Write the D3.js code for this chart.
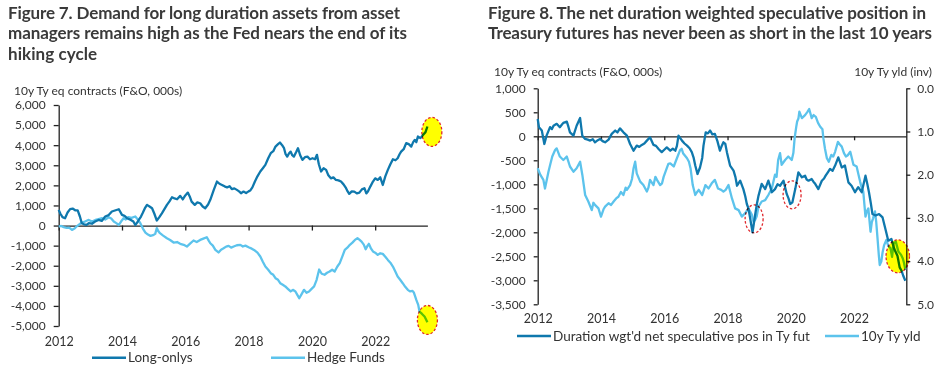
<!DOCTYPE html>
<html>
<head>
<meta charset="utf-8">
<script src="https://cdn.jsdelivr.net/npm/d3@7"></script>
<style>
  body { margin: 0; background: #fff; }
  svg text { font-family: 'Lato', sans-serif; fill: #333; }
  .title { font-weight: bold; font-size: 17px; fill: #3a3a3a; }
  .axis-title { font-size: 12px; }
  .tick text { font-size: 12px; fill: #333; }
  .axis path, .axis line { stroke: #222; stroke-width: 1.3px; }
  .legend text { font-size: 13.5px; }
</style>
</head>
<body>
<svg id="chart" width="945" height="371"></svg>
<script>
// ---- data: [decimal year, value] ----
var longOnlys = [[2012.00,780],[2012.05,600],[2012.12,420],[2012.2,365],[2012.28,650],[2012.36,820],[2012.44,845],[2012.52,760],[2012.6,760],[2012.67,450],[2012.73,115],[2012.8,60],[2012.88,30],[2012.95,115],[2013.05,90],[2013.15,200],[2013.26,280],[2013.36,230],[2013.47,450],[2013.58,520],[2013.68,700],[2013.8,760],[2013.9,810],[2014.0,530],[2014.08,480],[2014.16,365],[2014.28,280],[2014.36,200],[2014.42,30],[2014.48,150],[2014.53,280],[2014.6,450],[2014.65,610],[2014.72,850],[2014.79,1030],[2014.87,950],[2014.95,860],[2015.02,600],[2015.1,250],[2015.18,420],[2015.26,610],[2015.34,820],[2015.42,1030],[2015.5,1200],[2015.58,1410],[2015.66,1350],[2015.74,1310],[2015.84,1475],[2015.92,1300],[2016.0,1500],[2016.08,1640],[2016.14,1450],[2016.2,1190],[2016.3,1030],[2016.38,1150],[2016.47,1110],[2016.55,950],[2016.63,860],[2016.72,1050],[2016.79,1280],[2016.9,1775],[2017.0,2190],[2017.08,2080],[2017.16,2020],[2017.24,1950],[2017.32,1900],[2017.4,1960],[2017.47,1810],[2017.55,1850],[2017.63,1775],[2017.7,1700],[2017.76,1610],[2017.84,1690],[2017.92,1620],[2018.0,1700],[2018.05,1740],[2018.12,1900],[2018.2,2190],[2018.28,2450],[2018.37,2690],[2018.45,2850],[2018.53,3020],[2018.62,3350],[2018.7,3600],[2018.78,3700],[2018.85,3930],[2018.93,4050],[2018.99,4130],[2019.06,4000],[2019.12,3850],[2019.17,3550],[2019.22,3430],[2019.28,3600],[2019.33,3680],[2019.38,3500],[2019.43,3430],[2019.5,3650],[2019.56,3850],[2019.63,3500],[2019.7,3270],[2019.78,3400],[2019.86,3430],[2019.94,3300],[2020.02,3350],[2020.1,3300],[2020.16,3520],[2020.22,3050],[2020.29,2690],[2020.37,2850],[2020.45,2770],[2020.52,2500],[2020.6,2350],[2020.68,2400],[2020.76,2270],[2020.84,2250],[2020.92,2190],[2021.0,2050],[2021.08,1860],[2021.13,1700],[2021.18,1575],[2021.26,1700],[2021.34,1690],[2021.42,1600],[2021.5,1640],[2021.58,1800],[2021.66,1860],[2021.72,1600],[2021.77,1690],[2021.85,1950],[2021.93,2190],[2022.0,2350],[2022.08,2270],[2022.16,2400],[2022.24,2020],[2022.32,2450],[2022.4,2770],[2022.48,3050],[2022.56,3300],[2022.64,3250],[2022.71,3350],[2022.77,3550],[2022.82,3680],[2022.9,3800],[2022.98,4100],[2023.06,4050],[2023.14,3930],[2023.2,4150],[2023.25,4260],[2023.3,4150],[2023.35,4430],[2023.43,4350],[2023.51,4510],[2023.59,4650],[2023.65,4930]];

var hedgeFunds = [[2012.0,-50],[2012.08,-20],[2012.16,-80],[2012.25,-120],[2012.33,-100],[2012.42,-215],[2012.5,-150],[2012.54,-80],[2012.62,20],[2012.7,115],[2012.8,180],[2012.9,250],[2012.95,280],[2013.05,200],[2013.16,280],[2013.26,320],[2013.37,365],[2013.47,300],[2013.58,415],[2013.66,350],[2013.74,200],[2013.82,120],[2013.9,30],[2013.97,200],[2014.05,365],[2014.12,300],[2014.2,415],[2014.3,380],[2014.42,450],[2014.5,300],[2014.58,115],[2014.66,-150],[2014.74,-350],[2014.82,-450],[2014.9,-515],[2014.98,-480],[2015.05,-415],[2015.1,-130],[2015.15,-280],[2015.2,-380],[2015.3,-500],[2015.42,-630],[2015.52,-720],[2015.63,-845],[2015.74,-820],[2015.84,-910],[2015.95,-960],[2016.05,-1045],[2016.15,-900],[2016.26,-745],[2016.36,-820],[2016.47,-715],[2016.57,-650],[2016.68,-580],[2016.74,-750],[2016.79,-880],[2016.87,-1000],[2016.95,-1210],[2017.05,-1340],[2017.13,-1200],[2017.21,-1130],[2017.29,-1050],[2017.37,-1010],[2017.45,-1100],[2017.53,-1045],[2017.63,-980],[2017.74,-960],[2017.82,-1045],[2017.9,-1000],[2018.0,-1080],[2018.1,-1150],[2018.2,-1245],[2018.28,-1350],[2018.37,-1540],[2018.45,-1800],[2018.53,-2040],[2018.62,-2200],[2018.7,-2370],[2018.78,-2450],[2018.85,-2620],[2018.93,-2700],[2019.0,-2870],[2019.08,-2950],[2019.16,-3030],[2019.24,-3150],[2019.33,-3280],[2019.4,-3200],[2019.48,-3280],[2019.54,-3450],[2019.6,-3620],[2019.68,-3400],[2019.75,-3200],[2019.83,-3350],[2019.91,-3280],[2019.99,-3150],[2020.07,-3030],[2020.15,-2700],[2020.23,-2190],[2020.31,-2400],[2020.4,-2450],[2020.48,-2350],[2020.56,-2290],[2020.64,-2200],[2020.72,-2290],[2020.8,-2050],[2020.88,-1870],[2020.96,-1550],[2021.04,-1210],[2021.12,-1100],[2021.2,-960],[2021.28,-850],[2021.36,-715],[2021.44,-630],[2021.5,-700],[2021.57,-800],[2021.64,-950],[2021.7,-1180],[2021.76,-1000],[2021.8,-910],[2021.87,-1150],[2021.93,-1290],[2022.0,-1350],[2022.08,-1460],[2022.16,-1380],[2022.24,-1410],[2022.32,-1550],[2022.4,-1710],[2022.48,-1850],[2022.56,-2040],[2022.64,-2300],[2022.71,-2540],[2022.79,-2700],[2022.87,-2870],[2022.95,-3050],[2023.03,-3200],[2023.1,-3280],[2023.18,-3250],[2023.22,-3330],[2023.3,-3700],[2023.36,-3950],[2023.4,-4280],[2023.48,-4400],[2023.56,-4530],[2023.65,-4810]];

var netSpecPos = [[2012.0,360],[2012.04,190],[2012.13,120],[2012.21,-160],[2012.28,14],[2012.39,190],[2012.45,150],[2012.5,220],[2012.6,260],[2012.7,190],[2012.76,240],[2012.81,280],[2012.92,305],[2012.97,200],[2013.02,83],[2013.13,14],[2013.23,220],[2013.34,380],[2013.41,14],[2013.5,-55],[2013.58,-70],[2013.66,-90],[2013.74,-60],[2013.81,-125],[2013.9,-80],[2013.97,-55],[2014.05,-100],[2014.13,-125],[2014.24,-70],[2014.34,50],[2014.45,120],[2014.52,80],[2014.6,165],[2014.71,83],[2014.82,14],[2014.92,-160],[2015.03,-300],[2015.13,-195],[2015.21,-220],[2015.29,-180],[2015.37,-150],[2015.45,-90],[2015.55,-20],[2015.66,-180],[2015.74,-200],[2015.82,-265],[2015.92,-330],[2016.0,-280],[2016.08,-230],[2016.19,-300],[2016.27,-260],[2016.35,-300],[2016.4,-200],[2016.45,14],[2016.56,-90],[2016.64,-150],[2016.72,-195],[2016.8,-250],[2016.87,-330],[2016.93,-450],[2016.98,-610],[2017.05,-785],[2017.13,-650],[2017.2,-450],[2017.24,-195],[2017.31,83],[2017.38,60],[2017.45,120],[2017.52,40],[2017.6,50],[2017.68,-100],[2017.76,-300],[2017.82,-195],[2017.87,-125],[2017.93,-160],[2017.98,-330],[2018.08,-610],[2018.19,-715],[2018.25,-850],[2018.3,-1030],[2018.4,-925],[2018.5,-1100],[2018.56,-1250],[2018.61,-1410],[2018.66,-1500],[2018.71,-1690],[2018.79,-2000],[2018.87,-1650],[2018.93,-1400],[2018.98,-1235],[2019.08,-990],[2019.19,-1100],[2019.29,-925],[2019.35,-1050],[2019.4,-1165],[2019.5,-1100],[2019.58,-1000],[2019.66,-1030],[2019.77,-925],[2019.87,-1200],[2019.93,-1300],[2019.98,-1410],[2020.05,-1375],[2020.14,-1100],[2020.24,-750],[2020.35,-855],[2020.45,-820],[2020.5,-900],[2020.56,-925],[2020.66,-890],[2020.72,-950],[2020.77,-990],[2020.87,-1100],[2020.98,-925],[2021.05,-880],[2021.1,-820],[2021.17,-750],[2021.24,-680],[2021.32,-720],[2021.4,-610],[2021.5,-440],[2021.56,-550],[2021.61,-650],[2021.71,-610],[2021.77,-800],[2021.82,-960],[2021.92,-1030],[2022.03,-1165],[2022.13,-1060],[2022.24,-1165],[2022.36,-820],[2022.42,-1000],[2022.47,-1165],[2022.53,-1400],[2022.58,-1620],[2022.68,-1650],[2022.79,-1620],[2022.9,-1690],[2022.99,-1930],[2023.08,-2175],[2023.18,-2140],[2023.27,-2350],[2023.37,-2490],[2023.44,-2730],[2023.5,-2800],[2023.55,-2900],[2023.62,-3010]];

var tyYield = [[2012.0,1.85],[2012.08,2.0],[2012.18,2.12],[2012.23,2.32],[2012.34,1.93],[2012.4,1.75],[2012.46,1.58],[2012.55,1.43],[2012.6,1.39],[2012.7,1.58],[2012.81,1.66],[2012.92,1.58],[2013.02,1.81],[2013.13,1.93],[2013.23,1.85],[2013.34,1.70],[2013.41,2.0],[2013.5,2.47],[2013.6,2.62],[2013.71,2.82],[2013.76,2.65],[2013.81,2.70],[2013.92,2.78],[2014.0,2.97],[2014.08,2.80],[2014.13,2.74],[2014.24,2.66],[2014.32,2.70],[2014.4,2.62],[2014.48,2.55],[2014.55,2.51],[2014.63,2.40],[2014.71,2.47],[2014.78,2.30],[2014.82,2.35],[2014.92,2.24],[2014.98,2.10],[2015.03,1.85],[2015.08,1.70],[2015.13,1.97],[2015.24,2.16],[2015.34,2.24],[2015.45,2.39],[2015.5,2.30],[2015.55,2.12],[2015.66,2.24],[2015.72,2.05],[2015.77,2.12],[2015.87,2.24],[2015.93,2.20],[2015.98,2.05],[2016.08,1.85],[2016.13,1.75],[2016.19,1.74],[2016.3,1.81],[2016.4,1.62],[2016.5,1.43],[2016.55,1.40],[2016.6,1.51],[2016.72,1.62],[2016.78,1.70],[2016.83,1.85],[2016.9,2.24],[2016.98,2.47],[2017.04,2.40],[2017.09,2.35],[2017.2,2.47],[2017.3,2.24],[2017.4,2.32],[2017.5,2.20],[2017.6,2.12],[2017.7,2.32],[2017.8,2.35],[2017.87,2.39],[2017.94,2.35],[2018.03,2.24],[2018.14,2.55],[2018.24,2.78],[2018.35,2.82],[2018.45,2.97],[2018.56,2.89],[2018.66,2.78],[2018.77,2.93],[2018.82,3.09],[2018.87,3.05],[2018.92,2.97],[2018.98,2.74],[2019.08,2.62],[2019.19,2.59],[2019.29,2.47],[2019.4,2.32],[2019.5,2.0],[2019.55,2.05],[2019.6,1.66],[2019.66,1.50],[2019.71,1.77],[2019.82,1.66],[2019.92,1.58],[2020.03,1.66],[2020.08,1.50],[2020.12,1.16],[2020.17,0.90],[2020.2,0.77],[2020.24,0.70],[2020.27,0.54],[2020.35,0.69],[2020.45,0.62],[2020.52,0.55],[2020.58,0.48],[2020.66,0.69],[2020.72,0.62],[2020.79,0.66],[2020.86,0.80],[2020.93,0.89],[2021.0,0.95],[2021.03,1.16],[2021.08,1.40],[2021.14,1.62],[2021.2,1.70],[2021.28,1.54],[2021.34,1.58],[2021.4,1.47],[2021.49,1.24],[2021.55,1.30],[2021.61,1.35],[2021.68,1.50],[2021.74,1.58],[2021.8,1.55],[2021.88,1.47],[2021.98,1.77],[2022.08,1.81],[2022.14,2.0],[2022.19,2.16],[2022.24,2.30],[2022.29,2.39],[2022.36,2.97],[2022.4,2.85],[2022.45,2.78],[2022.52,3.32],[2022.56,3.10],[2022.6,3.01],[2022.66,2.85],[2022.7,3.10],[2022.74,3.47],[2022.78,3.85],[2022.81,4.09],[2022.86,4.01],[2022.9,3.80],[2022.95,3.63],[2023.02,3.51],[2023.08,3.65],[2023.15,3.70],[2023.2,3.90],[2023.25,3.59],[2023.32,3.55],[2023.4,3.78],[2023.48,3.85],[2023.54,3.94],[2023.58,4.05],[2023.62,4.20]];

var yearTicks = [2012, 2014, 2016, 2018, 2020, 2022];
var leftTicksFig7 = [-5000,-4000,-3000,-2000,-1000,0,1000,2000,3000,4000,5000,6000];
var leftTicksFig8 = [-3500,-3000,-2500,-2000,-1500,-1000,-500,0,500,1000];
var rightTicksFig8 = [0,1,2,3,4,5];

// highlighted spots: [year, value, highlighted?]
var marksFig7 = [[2023.79, 4660, true], [2023.65, -4700, true]];
var marksFig8 = [[2018.84, -1720, false], [2020.04, -1220, false], [2023.38, -2500, true]];

var titleFig7 = ["Figure 7. Demand for long duration assets from asset",
                 "managers remains high as the Fed nears the end of its",
                 "hiking cycle"];
var titleFig8 = ["Figure 8. The net duration weighted speculative position in",
                 "Treasury futures has never been as short in the last 10 years"];

var darkBlue = "#0f78ad", lightBlue = "#5cc3ec";

var svg = d3.select("#chart");
var loc = d3.formatLocale({decimal: ".", thousands: ",", grouping: [3], currency: ["$", ""], minus: "-"});
var fmtThousands = loc.format(","), fmtYld = loc.format(".1f"), fmtYear = d3.format("d");

// titles
function drawTitle(lines, x, widths) {
  svg.selectAll(null).data(lines).enter().append("text")
    .attr("class", "title")
    .attr("x", x)
    .attr("y", function (d, i) { return 18.5 + i * 20.5; })
    .attr("textLength", function (d, i) { return widths[i]; })
    .text(function (d) { return d; });
}
drawTitle(titleFig7, 8, [392, 399, 89]);
drawTitle(titleFig8, 488, [438, 444]);

function lineGen(x, y) {
  return d3.line().x(function (d) { return x(d[0]); }).y(function (d) { return y(d[1]); });
}

function drawMarks(g, marks, x, y, rx, ry) {
  g.selectAll(null).data(marks).enter().append("ellipse")
    .attr("cx", function (d) { return x(d[0]); })
    .attr("cy", function (d) { return y(d[1]); })
    .attr("rx", rx).attr("ry", ry)
    .style("fill", function (d) { return d[2] ? "#ffff00" : "none"; })
    .style("mix-blend-mode", "multiply")
    .style("stroke", "#e0262b")
    .style("stroke-width", 1.3)
    .style("stroke-dasharray", "2.5,2");
}

function legend(items, y) {
  var g = svg.append("g").attr("class", "legend");
  items.forEach(function (it) {
    g.append("line").attr("x1", it.x).attr("x2", it.x + 34).attr("y1", y).attr("y2", y)
      .style("stroke", it.color).style("stroke-width", 2.5);
    g.append("text").attr("x", it.x + 36).attr("y", y + 4.5).text(it.label);
  });
}

// ---------- Figure 7 ----------
(function () {
  var x = d3.scaleLinear().domain([2012, 2023.65]).range([58.7, 427.4]);
  var y = d3.scaleLinear().domain([-5000, 6000]).range([326, 105]);
  var g = svg.append("g");

  g.append("text").attr("class", "axis-title").attr("x", 14).attr("y", 95)
    .text("10y Ty eq contracts (F&O, 000s)");

  g.append("g").attr("class", "axis").attr("transform", "translate(58.7,0)")
    .call(d3.axisLeft(y).tickValues(leftTicksFig7).tickFormat(fmtThousands).tickSize(5).tickPadding(8).tickSizeOuter(0));

  g.append("g").attr("class", "axis").attr("transform", "translate(0," + y(0) + ")")
    .call(d3.axisBottom(x).tickValues(yearTicks).tickFormat("").tickSize(5).tickSizeOuter(0));

  var lab = g.append("g").attr("class", "axis").attr("transform", "translate(0,337)")
    .call(d3.axisBottom(x).tickValues(yearTicks).tickFormat(fmtYear).tickSize(0).tickPadding(0));
  lab.select(".domain").remove();
  lab.selectAll("text").attr("dy", "0.71em").style("font-size", "12.5px");

  var line = lineGen(x, y);
  g.append("path").datum(hedgeFunds).attr("d", line)
    .style("fill", "none").style("stroke", lightBlue).style("stroke-width", 2.3).style("stroke-linejoin", "round");
  g.append("path").datum(longOnlys).attr("d", line)
    .style("fill", "none").style("stroke", darkBlue).style("stroke-width", 2.3).style("stroke-linejoin", "round");

  drawMarks(g, marksFig7, x, y, 10, 14.5);

  legend([{x: 92, label: "Long-onlys", color: darkBlue}, {x: 271, label: "Hedge Funds", color: lightBlue}], 357.7);
})();

// ---------- Figure 8 ----------
(function () {
  var x = d3.scaleLinear().domain([2012, 2023.65]).range([537.7, 906.3]);
  var y = d3.scaleLinear().domain([-3500, 1000]).range([304.3, 88.3]);
  var y2 = d3.scaleLinear().domain([0, 5]).range([88.3, 304.3]);
  var g = svg.append("g");

  g.append("text").attr("class", "axis-title").attr("x", 494).attr("y", 75.5)
    .text("10y Ty eq contracts (F&O, 000s)");
  g.append("text").attr("class", "axis-title").attr("x", 932).attr("y", 75.5)
    .attr("text-anchor", "end").text("10y Ty yld (inv)");

  g.append("g").attr("class", "axis").attr("transform", "translate(537.7,0)")
    .call(d3.axisLeft(y).tickValues(leftTicksFig8).tickFormat(fmtThousands).tickSize(4).tickPadding(8).tickSizeOuter(0));
  g.append("g").attr("class", "axis").attr("transform", "translate(906.3,0)")
    .call(d3.axisRight(y2).tickValues(rightTicksFig8).tickFormat(fmtYld).tickSize(4).tickPadding(7).tickSizeOuter(0));

  g.append("g").attr("class", "axis").attr("transform", "translate(0," + y(0) + ")")
    .call(d3.axisBottom(x).tickValues(yearTicks).tickFormat("").tickSize(4).tickSizeOuter(0));

  var lab = g.append("g").attr("class", "axis").attr("transform", "translate(0,314.5)")
    .call(d3.axisBottom(x).tickValues(yearTicks).tickFormat(fmtYear).tickSize(0).tickPadding(0));
  lab.select(".domain").remove();
  lab.selectAll("text").attr("dy", "0.71em").style("font-size", "12.5px");

  g.append("path").datum(tyYield).attr("d", lineGen(x, y2))
    .style("fill", "none").style("stroke", lightBlue).style("stroke-width", 2.3).style("stroke-linejoin", "round");
  g.append("path").datum(netSpecPos).attr("d", lineGen(x, y))
    .style("fill", "none").style("stroke", darkBlue).style("stroke-width", 2.3).style("stroke-linejoin", "round");

  drawMarks(g, marksFig8.slice(0, 2), x, y, 9, 14);
  drawMarks(g, marksFig8.slice(2), x, y, 11.7, 16.5);

  legend([{x: 517, label: "Duration wgt'd net speculative pos in Ty fut", color: darkBlue},
          {x: 825, label: "10y Ty yld", color: lightBlue}], 336);
})();
</script>
</body>
</html>
